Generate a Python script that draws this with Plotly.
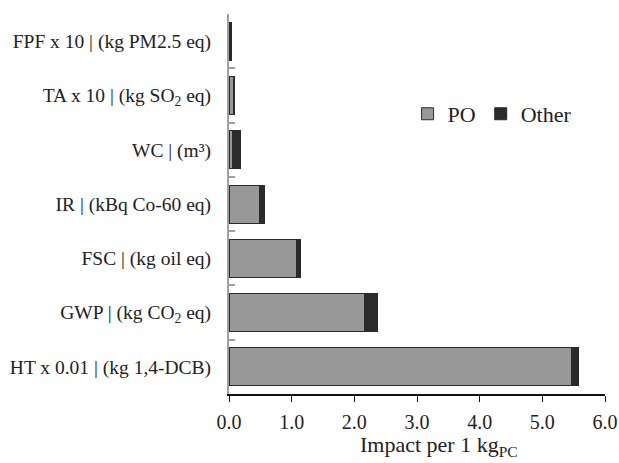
import plotly.graph_objects as go

categories = [
    "HT x 0.01 | (kg 1,4-DCB)",
    "GWP | (kg CO<sub>2</sub> eq)",
    "FSC | (kg oil eq)",
    "IR | (kBq Co-60 eq)",
    "WC | (m³)",
    "TA x 10 | (kg SO<sub>2</sub> eq)",
    "FPF x 10 | (kg PM2.5 eq)",
]
po_values = [5.46, 2.16, 1.07, 0.49, 0.05, 0.07, 0.02]
other_values = [0.12, 0.21, 0.07, 0.08, 0.14, 0.01, 0.02]
x_ticks = [0, 1, 2, 3, 4, 5, 6]
x_tick_labels = ["0.0", "1.0", "2.0", "3.0", "4.0", "5.0", "6.0"]
x_title = "Impact per 1 kg<sub>PC</sub>"

font_family = "Liberation Serif, Times New Roman, serif"

fig = go.Figure()
fig.add_trace(go.Bar(
    y=categories, x=po_values, orientation="h", name="PO",
    marker=dict(color="#989898", line=dict(color="#2a2a2a", width=1)),
    width=0.7,
))
fig.add_trace(go.Bar(
    y=categories, x=other_values, orientation="h", name="Other",
    marker=dict(color="#2b2b2b", line=dict(color="#2a2a2a", width=1)),
    width=0.7,
))

fig.add_annotation(
    text=x_title, xref="paper", yref="paper", x=0.559, y=-0.138,
    xanchor="center", yanchor="middle", showarrow=False,
    font=dict(family=font_family, size=22, color="#222222"),
)

fig.update_layout(
    barmode="stack",
    width=619, height=463,
    margin=dict(l=229, r=14, t=14, b=69, autoexpand=False),
    paper_bgcolor="white", plot_bgcolor="white",
    font=dict(family=font_family, size=20, color="#222222"),
    showlegend=True,
    legend=dict(
        orientation="h", x=0.475, y=0.737, xanchor="left", yanchor="middle",
        font=dict(family=font_family, size=22, color="#222222"),
        itemwidth=30, traceorder="normal", tracegroupgap=0,
        bgcolor="rgba(0,0,0,0)",
    ),
    xaxis=dict(
        range=[0, 6], tickvals=x_ticks, ticktext=x_tick_labels,
        showgrid=False, zeroline=False, automargin=False,
        showline=True, linecolor="#111111", linewidth=2,
        ticks="outside", ticklen=6, tickcolor="#111111", tickwidth=1,
        tickfont=dict(family=font_family, size=20, color="#222222"),
        ticklabelstandoff=3,
    ),
    yaxis=dict(
        type="category", categoryorder="array", categoryarray=categories,
        showgrid=False, zeroline=False, automargin=False,
        showline=True, linecolor="#a0a0a0", linewidth=2,
        ticks="inside", ticklen=6, tickcolor="#a0a0a0", tickwidth=2,
        tickson="boundaries",
        tickfont=dict(family=font_family, size=19.5, color="#222222"),
        ticklabelstandoff=12,
    ),
)

fig.write_html(
    "out.html",
    config={"displayModeBar": False},
    post_script="document.body.style.margin='0px';document.body.style.overflow='hidden';",
)
